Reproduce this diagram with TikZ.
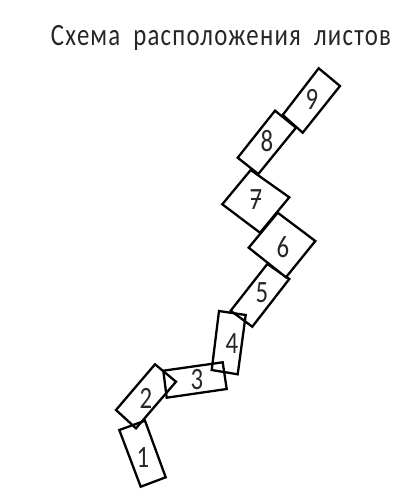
\documentclass[tikz,border=0pt]{standalone}
\usepackage{fontspec}
\setmainfont{Carlito}
\newfontfamily\titlefont[LetterSpace=5,WordSpace=1.9]{Carlito}
\tikzset{
  sheet/.style={draw, line width=2.3pt, line join=miter},
  sheetover/.style={sheet, fill=white},
  num/.style={font=\fontsize{31}{31}\selectfont, inner sep=0pt, xscale=0.8, text=black!85}
}

\begin{document}
\begin{tikzpicture}[x=1pt, y=-1pt]
  \useasboundingbox (0,0) rectangle (409,495);

  \draw[sheet] (119.3,430) -- (145,420.7) -- (165.7,477.3) -- (140.7,486.7) -- cycle;
  \draw[sheet] (155,364.3) -- (176,381.7) -- (136,428.3) -- (116,410) -- cycle;
  \draw[sheet] (163.3,370.7) -- (222.7,362.3) -- (226.7,389) -- (166.7,397.7) -- cycle;
  \draw[sheet] (219,311) -- (245.7,315) -- (237.7,374.3) -- (211.7,370) -- cycle;
  \draw[sheet] (267.3,264) -- (289.3,279) -- (252.3,326.7) -- (230.7,310.7) -- cycle;
  \draw[sheet] (250.7,170) -- (289.3,197.3) -- (260,232.7) -- (222.3,204.3) -- cycle;
  \draw[sheetover] (277.7,212.7) -- (315.3,241) -- (286,277.3) -- (248.7,247.7) -- cycle;
  \draw[sheet] (318.7,68.3) -- (340,86) -- (302.7,132.7) -- (282.7,115) -- cycle;
  \draw[sheetover] (275,110.7) -- (296,127.7) -- (258.3,174) -- (237.7,157.7) -- cycle;

  \node[num] (n1) at (143,458) {1};
  \node[num] (n2) at (146,398) {2};
  \node[num] (n3) at (197,380) {3};
  \node[num] (n4) at (232,344) {4};
  \node[num] (n5) at (262,293) {5};
  \node[num] (n6) at (283,247) {6};
  \node[num] (n7) at (256,200) {7};
  \node[num] (n8) at (267,141) {8};
  \node[num] (n9) at (312,99) {9};
  \draw[line width=1.2pt, black!85] ([xshift=-5pt,yshift=1pt]n7.center) -- ([xshift=5pt,yshift=1pt]n7.center);

  \node[font=\titlefont\fontsize{31}{31}\selectfont, inner sep=0pt, xscale=0.8, text=black!85] (title) at (221,38) {Схема расположения листов};
\end{tikzpicture}
\end{document}
